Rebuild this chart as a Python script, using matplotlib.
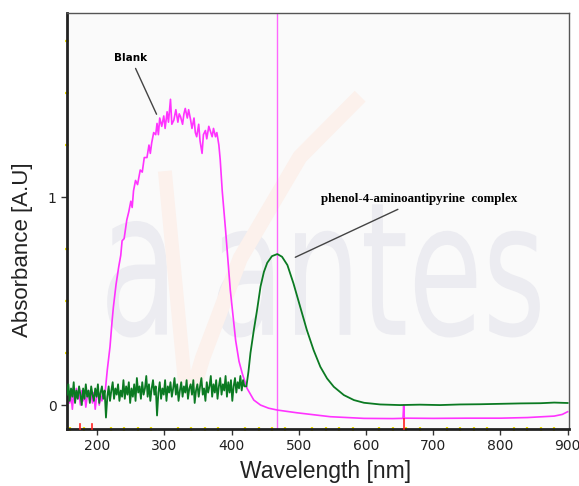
# -*- coding: utf-8 -*-
import numpy as np
import matplotlib
matplotlib.use('Agg')
import matplotlib.pyplot as plt
from matplotlib.ticker import MultipleLocator
from matplotlib.textpath import TextPath
from matplotlib.patches import PathPatch
from matplotlib.font_manager import FontProperties
from matplotlib.transforms import Affine2D

# --- datos ---
# complejo fenol-4-aminoantipirina (verde): tramo ruidoso 155-419 nm
green_noise = [0.05, 0.10, 0.02, 0.08, 0.04, 0.11, 0.01, 0.07, 0.03, 0.09,
               0.05, 0.00, 0.08, 0.03, 0.10, 0.04, 0.07, 0.01, 0.09, 0.05,
               0.02, 0.08, 0.04, 0.10, 0.01, 0.06, 0.09, 0.03, 0.07, -0.06,
               0.04, 0.09, 0.02, 0.07, 0.11, 0.03, 0.08, 0.05, 0.10, 0.02,
               0.07, 0.04, 0.12, 0.03, 0.09, 0.05, 0.11, 0.01, 0.08, 0.04,
               0.10, 0.02, 0.13, 0.06, 0.09, 0.03, 0.11, 0.05, 0.08, 0.14,
               0.04, 0.10, 0.02, 0.08, 0.12, 0.05, 0.09, -0.05, 0.06, 0.11,
               0.03, 0.08, 0.05, 0.12, 0.02, 0.09, 0.06, 0.11, 0.04, 0.08,
               0.13, 0.05, 0.10, 0.02, 0.07, 0.11, 0.04, 0.09, 0.06, 0.12,
               0.03, 0.08, 0.10, 0.05, 0.12, 0.01, 0.07, 0.10, 0.04, 0.09,
               0.13, 0.05, 0.08, 0.02, 0.11, 0.06, 0.09, 0.14, 0.04, 0.10,
               0.06, 0.12, 0.03, 0.09, 0.13, 0.05, 0.10, 0.07, 0.14, 0.04,
               0.11, 0.06, 0.12, 0.02, 0.09, 0.13, 0.06, 0.11, 0.08, 0.14,
               0.07, 0.12, 0.09]
green_wl = [422, 425, 428, 433, 438, 443, 448, 453, 460, 468, 475, 483, 492,
            502, 512, 522, 532, 542, 552, 567, 582, 597, 621, 650, 680, 710,
            740, 770, 800, 830, 860, 880, 900]
green_abs = [0.09, 0.16, 0.25, 0.36, 0.46, 0.57, 0.64, 0.684, 0.716, 0.726,
             0.713, 0.673, 0.585, 0.473, 0.36, 0.264, 0.184, 0.128, 0.088,
             0.048, 0.024, 0.011, 0.003, 0.0, 0.002, 0.0, 0.003, 0.004,
             0.006, 0.008, 0.009, 0.012, 0.01]

# blanco (magenta): tramo ruidoso 155-209 nm
blank_noise = [0.03, 0.07, 0.01, 0.05, -0.02, 0.06, 0.02, 0.08, 0.03, 0.05,
               0.00, 0.07, 0.02, 0.06, -0.01, 0.04, 0.07, 0.02, 0.05, 0.01,
               0.06, -0.02, 0.04, 0.07, 0.00, 0.05, 0.02, 0.06]
blank_wl = [212, 215, 219, 222, 224, 228, 232, 235, 237, 240, 244, 247, 250,
            252, 254, 257, 260, 264, 267, 270, 274, 277, 279, 281, 284, 287,
            289, 291, 293, 296, 299, 301, 304, 306, 309, 311, 314, 317, 320,
            322, 324, 327, 329, 331, 334, 336, 339, 341, 344, 346, 348, 351,
            353, 356, 358, 361, 363, 366, 368, 371, 373, 376, 378, 381, 383,
            386, 391, 398, 406, 411, 416, 423, 433, 443, 455, 468, 497, 547,
            597, 640, 652, 655, 656, 657, 660, 700, 750, 800, 840, 880, 892,
            900]
blank_abs = [0.07, 0.17, 0.28, 0.40, 0.47, 0.58, 0.665, 0.72, 0.79, 0.80,
             0.89, 0.93, 0.98, 0.95, 1.03, 1.08, 1.06, 1.13, 1.12, 1.19, 1.19,
             1.25, 1.21, 1.26, 1.31, 1.30, 1.354, 1.30, 1.38, 1.34, 1.39,
             1.33, 1.41, 1.36, 1.47, 1.35, 1.37, 1.42, 1.36, 1.40, 1.386,
             1.35, 1.40, 1.426, 1.38, 1.42, 1.37, 1.33, 1.38, 1.31, 1.29,
             1.35, 1.27, 1.21, 1.30, 1.32, 1.28, 1.34, 1.32, 1.29, 1.33, 1.29,
             1.31, 1.25, 1.18, 1.03, 0.84, 0.553, 0.31, 0.21, 0.15, 0.08,
             0.024, 0.0, -0.015, -0.024, -0.037, -0.056, -0.064, -0.065,
             -0.064, -0.064, 0.0, -0.064, -0.063, -0.064, -0.063, -0.063,
             -0.06, -0.053, -0.045, -0.032]

cursor_nm = 468          # linea vertical del cursor
red_marks = [175, 192, 656]

x_ticks = [200, 300, 400, 500, 600, 700, 800, 900]
y_ticks = [0, 1]

wl_green = np.concatenate([np.linspace(155, 419, len(green_noise)), green_wl])
ab_green = np.concatenate([green_noise, green_abs])
wl_blank = np.concatenate([np.linspace(155, 209, len(blank_noise)), blank_wl])
ab_blank = np.concatenate([blank_noise, blank_abs])

fig = plt.figure(figsize=(5.79, 4.86), dpi=100)
ax = fig.add_axes([0.1157, 0.1173, 0.867, 0.856])
ax.set_facecolor('#fafafa')


def marca_agua(txt, x0, y0, x1, y1, color):
    # texto del logo encajado en una caja (fracciones de ejes)
    tp = TextPath((0, 0), txt, size=1, prop=FontProperties(family='DejaVu Sans'))
    bb = tp.get_extents()
    tr = (Affine2D().translate(-bb.x0, -bb.y0)
          .scale((x1 - x0) / bb.width, (y1 - y0) / bb.height)
          .translate(x0, y0) + ax.transAxes)
    ax.add_patch(PathPatch(tp, transform=tr, fc=color, ec='none', zorder=0))


marca_agua('a', 0.080, 0.22, 0.199, 0.50, '#ececf1')
marca_agua('antes', 0.299, 0.22, 0.942, 0.54, '#ececf1')
# trazo naranja del logo (la "v"), muy tenue
ax.plot([0.195, 0.235], [0.62, 0.11], transform=ax.transAxes,
        color='#fcf1ec', lw=10, solid_capstyle='butt', zorder=0)
ax.plot([0.248, 0.27, 0.345, 0.464, 0.584], [0.08, 0.17, 0.41, 0.654, 0.80],
        transform=ax.transAxes, color='#fcf1ec', lw=11,
        solid_capstyle='butt', zorder=0)

ax.axvline(cursor_nm, color='#ff66ff', lw=1.0, zorder=1)
ax.plot(wl_blank, ab_blank, color='#ff33ff', lw=1.2, zorder=2)
ax.plot(wl_green, ab_green, color='#0b7a22', lw=1.3, zorder=3)
for r in red_marks:
    ax.plot([r, r], [-0.115, -0.09 if r < 600 else -0.065], color='#ff2020',
            lw=1.2, zorder=4, clip_on=False)

ax.set_xlim(155, 902)
ax.set_ylim(-0.115, 1.885)
ax.set_xticks(x_ticks)
ax.set_yticks(y_ticks)
ax.xaxis.set_minor_locator(MultipleLocator(20))
ax.yaxis.set_minor_locator(MultipleLocator(0.25))
ax.tick_params(which='major', length=4, width=1, color='#333333',
               labelsize=10, labelcolor='#222222')
ax.tick_params(which='minor', length=3, width=1.6, color='#eee000',
               direction='inout')
for s in ax.spines.values():
    s.set_color('#555555')
    s.set_linewidth(1.0)
ax.spines['left'].set_linewidth(2.0)
ax.spines['bottom'].set_linewidth(2.0)
ax.spines['left'].set_color('#222222')
ax.spines['bottom'].set_color('#222222')

ax.set_xlabel('Wavelength [nm]', fontsize=16.5, family='Liberation Sans',
              color='#222222')
ax.set_ylabel('Absorbance [A.U]', fontsize=16, family='Liberation Sans',
              color='#222222')
ax.xaxis.set_label_coords(0.516, -0.075)
ax.yaxis.set_label_coords(-0.068, 0.43)

ax.annotate('Blank', xy=(290, 1.386), xytext=(250, 1.644),
            fontsize=7.5, fontweight='bold', family='DejaVu Sans',
            ha='center', va='bottom',
            arrowprops=dict(arrowstyle='-', color='#444444', lw=1.0))
ax.annotate('phenol-4-aminoantipyrine  complex', xy=(491, 0.705),
            xytext=(533, 0.96), fontsize=9.3, fontweight='bold',
            family='Liberation Serif', ha='left', va='bottom',
            arrowprops=dict(arrowstyle='-', color='#444444', lw=1.0))

fig.savefig('out.png', dpi=100)
